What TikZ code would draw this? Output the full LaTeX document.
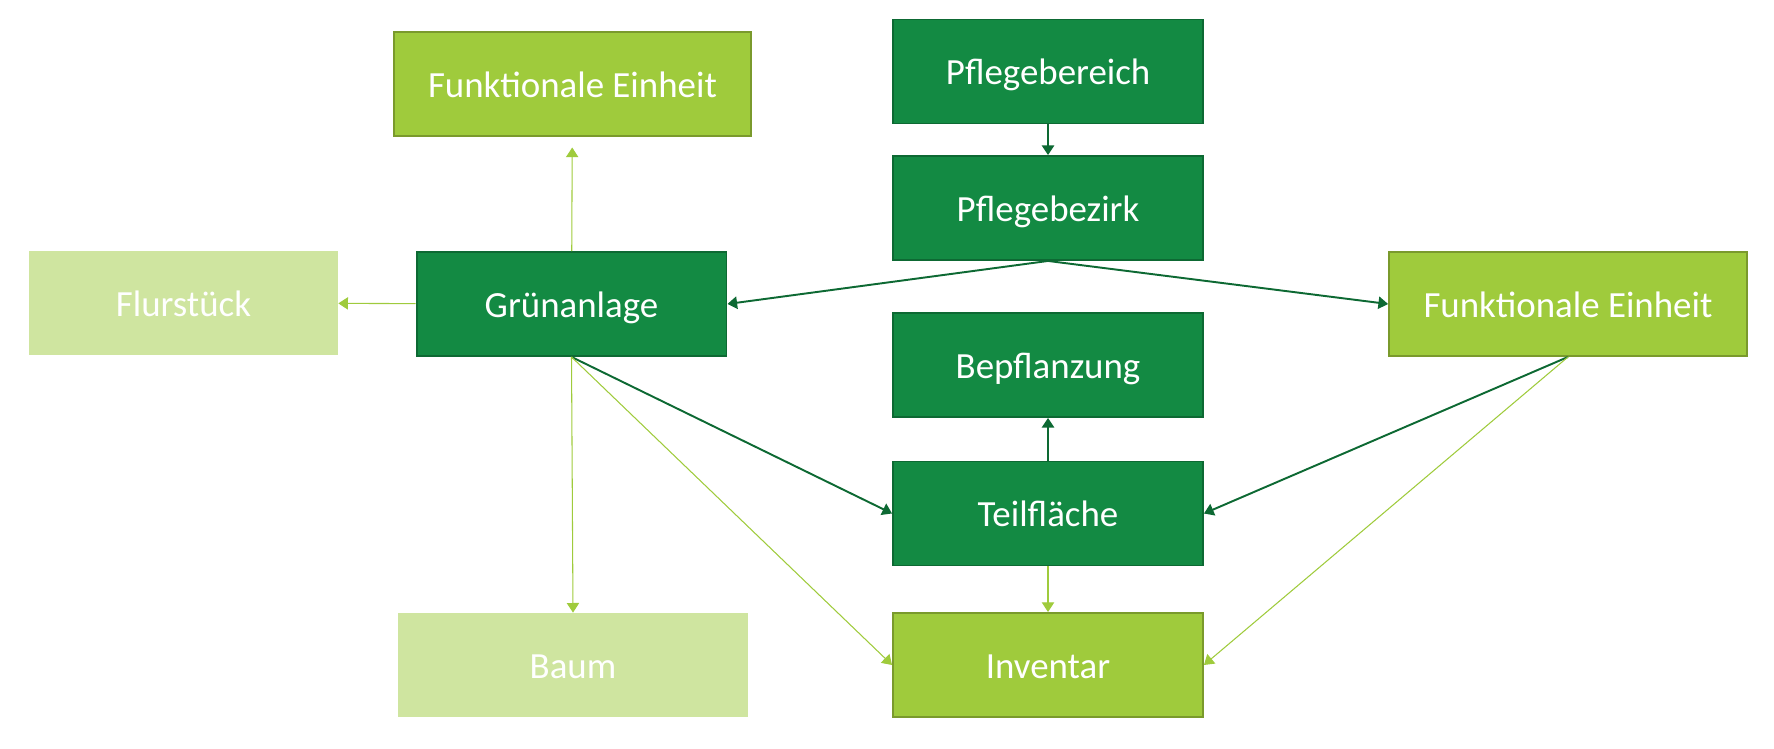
\documentclass[tikz,border=0pt]{standalone}
\usepackage{fontspec}
\setmainfont{Carlito}
\usepackage{tikz}
\usetikzlibrary{arrows.meta,positioning}

\definecolor{darkfill}{HTML}{138A43}
\definecolor{darkline}{HTML}{0D6933}
\definecolor{midfill}{HTML}{9FCB3C}
\definecolor{midline}{HTML}{7A9A2C}
\definecolor{palefill}{HTML}{CFE5A0}

\begin{document}
\begin{tikzpicture}[
  x=0.02cm, y=-0.02cm,
  box/.style={
    align=center,
    minimum width=6.2cm,
    minimum height=2.08cm,
    inner sep=0pt,
    text height=19pt,
    text depth=4pt,
    text=white,
    font=\fontsize{21}{25}\selectfont
  },
  darkbox/.style={box, fill=darkfill, draw=darkline, line width=1.1pt},
  midbox/.style={box, fill=midfill, draw=midline, line width=1.1pt},
  palebox/.style={box, fill=palefill},
  line/.style={-{Triangle[length=5.5pt,width=7pt]}, darkline, line width=1.1pt},
  lightline/.style={-{Triangle[length=5.5pt,width=7pt]}, midfill, line width=0.6pt}
]

\useasboundingbox (0,0) rectangle (1774,749);

% --- Pflege column ---
\node[darkbox] (bereich) at (1048,71.5) {Pflegebereich};
\node[darkbox] (bezirk) at (1048,208) {Pflegebezirk};
\node[darkbox] (bepfl) at (1048,365) {Bepflanzung};
\node[darkbox] (teil) at (1048,513.5) {Teilfläche};
\node[midbox] (inv) at (1048,665) {Inventar};

% --- Grünanlage and neighbours ---
\node[darkbox] (gruen) at (571.5,304) {Grünanlage};
\node[midbox,minimum width=7.14cm] (fe_top) at (572.5,84) {Funktionale Einheit};
\node[palebox,minimum width=6.18cm] (flur) at (183.5,303) {Flurstück};
\node[palebox,minimum width=7cm] (baum) at (573,665) {Baum};

\node[midbox,minimum width=7.16cm] (fe_right) at (1568,304) {Funktionale Einheit};

% Arrows
\draw[line] (bereich) -- (bezirk);
\draw[line] (bezirk.south) -- (gruen.east);
\draw[line] (bezirk.south) -- (fe_right.west);
\draw[line] (gruen.south) -- (teil.west);
\draw[line] (teil) -- (bepfl);
\draw[line] (fe_right.south) -- (teil.east);

\draw[lightline,shorten >=6pt] (gruen) -- (fe_top);
\draw[lightline] (gruen) -- (flur);
\draw[lightline] (gruen.south) -- (baum.north);
\draw[lightline] (gruen.south) -- (inv.west);
\draw[lightline] (teil) -- (inv);
\draw[lightline] (fe_right.south) -- (inv.east);

\end{tikzpicture}
\end{document}
